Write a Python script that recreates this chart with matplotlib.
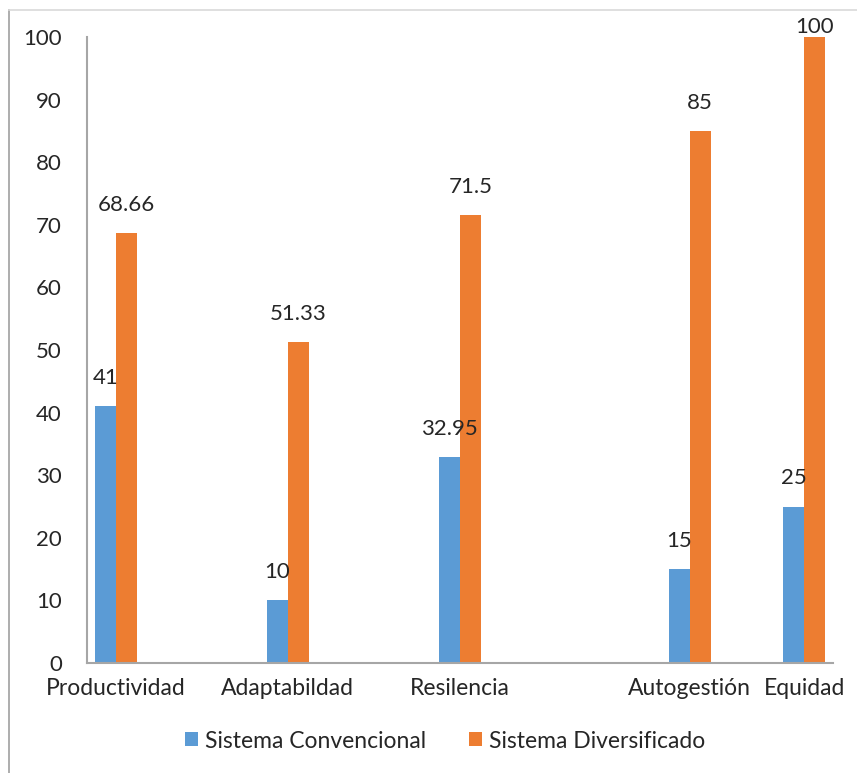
import matplotlib
matplotlib.use("Agg")
import matplotlib.pyplot as plt
from matplotlib.lines import Line2D

plt.rcParams['font.family'] = ['Lato', 'DejaVu Sans']

categories = ["Productividad", "Adaptabildad", "Resilencia", "Autogestión", "Equidad"]
slots = [0, 3, 6, 10, 12]          # category slots on a 13-slot axis
convencional = [41, 10, 32.95, 15, 25]
diversificado = [68.66, 51.33, 71.5, 85, 100]
series_names = ["Sistema Convencional", "Sistema Diversificado"]
yticks = [0, 10, 20, 30, 40, 50, 60, 70, 80, 90, 100]

BLUE = "#5B9BD5"
ORANGE = "#ED7D31"
TXT = "#262626"
AXC = "#A6A6A6"
FS = 16
FS_TXT = 16.5

fig = plt.figure(figsize=(8.57, 7.73), dpi=100)
ax = fig.add_axes([87 / 857, 1 - 663 / 773, (833 - 87) / 857, (663 - 37) / 773])

w = 0.366
xb = [s - w / 2 for s in slots]
xo = [s + w / 2 for s in slots]
ax.bar(xb, convencional, width=w, color=BLUE, label=series_names[0])
ax.bar(xo, diversificado, width=w, color=ORANGE, label=series_names[1])

ymax = 100
ax.set_ylim(0, ymax)
ax.set_xlim(-0.5, 12.5)


def fmt(v):
    return f"{v:g}"


for xs, vals in ((xb, convencional), (xo, diversificado)):
    for x, v in zip(xs, vals):
        off = 13 if v < ymax - 2 else 0
        ax.annotate(fmt(v), (x, v), xytext=(0, off), textcoords="offset points",
                    ha="center", va="bottom", fontsize=FS, color=TXT,
                    annotation_clip=False)

ax.set_yticks(yticks)
ax.set_yticklabels([str(t) for t in yticks])
ax.set_xticks(slots)
ax.set_xticklabels(categories)
ax.tick_params(axis="y", length=0, pad=18, labelsize=FS, labelcolor=TXT)
ax.tick_params(axis="x", length=0, pad=11, labelsize=FS_TXT, labelcolor=TXT)

for side in ("top", "right"):
    ax.spines[side].set_visible(False)
for side in ("left", "bottom"):
    ax.spines[side].set_color(AXC)
    ax.spines[side].set_linewidth(1.5)

# chart-area frame (left and top edges)
fig.add_artist(Line2D([9 / 857, 9 / 857], [0, 1 - 10 / 773], transform=fig.transFigure,
                      color="#A0A0A0", lw=1.2))
fig.add_artist(Line2D([9 / 857, 1], [1 - 10 / 773, 1 - 10 / 773], transform=fig.transFigure,
                      color="#D9D9D9", lw=1.2))

leg = fig.legend(loc="center", bbox_to_anchor=(445 / 857, 1 - 741 / 773), ncol=2,
                 frameon=False, fontsize=FS_TXT, handlelength=0.57, handleheight=0.57,
                 handletextpad=0.3, columnspacing=1.9, labelcolor=TXT)

fig.savefig("out.png", dpi=100)
